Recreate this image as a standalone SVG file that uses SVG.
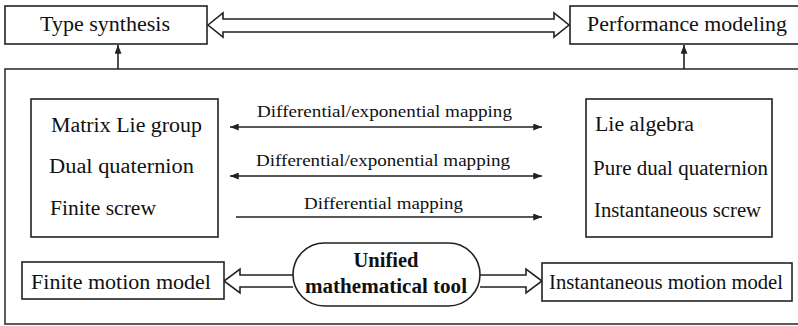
<svg xmlns="http://www.w3.org/2000/svg" width="798" height="326" viewBox="0 0 798 326">
  <style>
    .box { fill: #fff; stroke: #222; stroke-width: 1.6; }
    .frame { fill: none; stroke: #333; stroke-width: 1.6; }
    .t { font-family: "Liberation Serif", "Times New Roman", serif; font-size: 20.5px; fill: #111; }
    .lbl { font-family: "Liberation Serif", "Times New Roman", serif; font-size: 16.5px; fill: #111; }
    .bold { font-family: "Liberation Serif", "Times New Roman", serif; font-size: 20.5px; font-weight: bold; fill: #111; }
    .line { fill: none; stroke: #222; stroke-width: 1.6; }
    .hollow { fill: #fff; stroke: #222; stroke-width: 1.6; stroke-linejoin: miter; }
  </style>
  <defs>
    <marker id="head" viewBox="0 0 10 8" refX="10" refY="4" markerWidth="10" markerHeight="7" markerUnits="userSpaceOnUse" orient="auto-start-reverse">
      <path d="M0,0 L10,4 L0,8 Z" fill="#222"/>
    </marker>
  </defs>

  <rect width="798" height="326" fill="#fff"/>

  <!-- outer frame holding the mathematical tools -->
  <g id="frame">
    <rect class="frame" x="5" y="69" width="800" height="255"/>
  </g>

  <!-- connectors -->
  <g id="connectors">
    <!-- hollow double arrow between the two top boxes -->
    <path class="hollow" d="M208,25 L223,13 L223,19 L554,19 L554,13 L569,25 L554,37 L554,32 L223,32 L223,37 Z"/>
    <!-- upward arrows from the frame -->
    <line class="line" x1="118" y1="69" x2="118" y2="45" marker-end="url(#head)"/>
    <line class="line" x1="684" y1="69" x2="684" y2="45" marker-end="url(#head)"/>
    <!-- mappings between the two columns -->
    <line class="line" x1="230" y1="127" x2="542" y2="127" marker-start="url(#head)" marker-end="url(#head)"/>
    <line class="line" x1="230" y1="176" x2="542" y2="176" marker-start="url(#head)" marker-end="url(#head)"/>
    <line class="line" x1="236" y1="217" x2="542" y2="217" marker-end="url(#head)"/>
    <text class="lbl" x="257" y="117" textLength="255" lengthAdjust="spacingAndGlyphs">Differential/exponential mapping</text>
    <text class="lbl" x="256" y="166" textLength="254" lengthAdjust="spacingAndGlyphs">Differential/exponential mapping</text>
    <text class="lbl" x="304" y="209" textLength="159" lengthAdjust="spacingAndGlyphs">Differential mapping</text>
    <!-- hollow arrows out of the unified tool -->
    <path class="hollow" d="M293,275 L240,275 L240,269 L224,281 L240,293 L240,287 L293,287"/>
    <path class="hollow" d="M480,275 L526,275 L526,269 L542,281 L526,293 L526,287 L480,287"/>
  </g>

  <g id="type-synthesis">
    <rect class="box" x="5" y="6" width="202" height="38"/>
    <text class="t" x="40" y="31" textLength="130" lengthAdjust="spacingAndGlyphs">Type synthesis</text>
  </g>

  <g id="performance-modeling">
    <rect class="box" x="570" y="6" width="240" height="38"/>
    <text class="t" x="587" y="31" textLength="200" lengthAdjust="spacingAndGlyphs">Performance modeling</text>
  </g>

  <g id="finite-tools">
    <rect class="box" x="31" y="99" width="187" height="138"/>
    <text class="t" x="51" y="132" textLength="151" lengthAdjust="spacingAndGlyphs">Matrix Lie group</text>
    <text class="t" x="49" y="173" textLength="145" lengthAdjust="spacingAndGlyphs">Dual quaternion</text>
    <text class="t" x="50" y="215" textLength="106" lengthAdjust="spacingAndGlyphs">Finite screw</text>
  </g>

  <g id="instantaneous-tools">
    <rect class="box" x="586" y="99" width="186" height="138"/>
    <text class="t" x="595" y="131" textLength="99" lengthAdjust="spacingAndGlyphs">Lie algebra</text>
    <text class="t" x="593" y="175" textLength="175" lengthAdjust="spacingAndGlyphs">Pure dual quaternion</text>
    <text class="t" x="594" y="217" textLength="167" lengthAdjust="spacingAndGlyphs">Instantaneous screw</text>
  </g>

  <g id="unified-tool">
    <rect class="box" x="293" y="243" width="187" height="63" rx="31.5" ry="31.5"/>
    <text class="bold" x="386" y="267" text-anchor="middle" textLength="65" lengthAdjust="spacingAndGlyphs">Unified</text>
    <text class="bold" x="386" y="293" text-anchor="middle" textLength="162" lengthAdjust="spacingAndGlyphs">mathematical tool</text>
  </g>

  <g id="finite-motion-model">
    <rect class="box" x="22" y="262" width="202" height="37"/>
    <text class="t" x="31" y="289" textLength="180" lengthAdjust="spacingAndGlyphs">Finite motion model</text>
  </g>

  <g id="instantaneous-motion-model">
    <rect class="box" x="542" y="263" width="250" height="38"/>
    <text class="t" x="549" y="289" textLength="234" lengthAdjust="spacingAndGlyphs">Instantaneous motion model</text>
  </g>
</svg>
